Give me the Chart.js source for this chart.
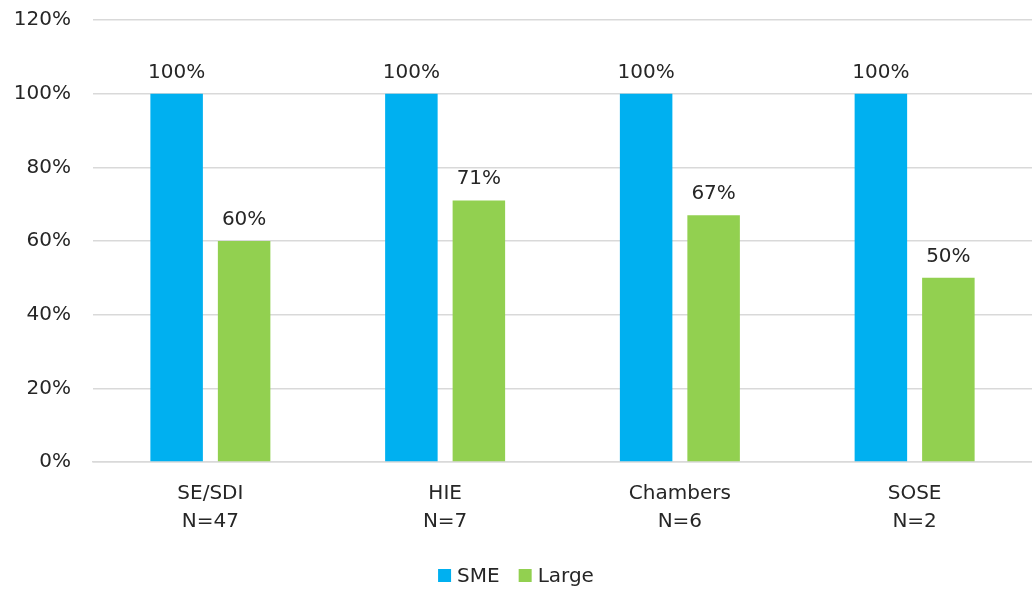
<!DOCTYPE html>
<html>
<head>
<meta charset="utf-8">
<script src="https://cdn.jsdelivr.net/npm/chart.js@4"></script>
<style>
  html, body { margin: 0; padding: 0; background: #fff; }
  #wrap { width: 1032px; height: 589px; }
</style>
</head>
<body>
<div id="wrap"><canvas id="chart"></canvas></div>
<script>
// data
const categories = [['SE/SDI', 'N=47'], ['HIE', 'N=7'], ['Chambers', 'N=6'], ['SOSE', 'N=2']];
const smeValues = [100, 100, 100, 100];
const largeValues = [60, 71, 67, 50];
const yTicks = [0, 20, 40, 60, 80, 100, 120];

const textColor = '#262626';
const fontFamily = '"DejaVu Sans", sans-serif';
const font20 = '20px ' + fontFamily;

// value labels above each bar + a small legend at the bottom
const barLabels = {
    id: 'barLabels',
    afterDatasetsDraw(chart) {
        const ctx = chart.ctx;
        ctx.save();
        ctx.fillStyle = textColor;
        ctx.font = font20;
        ctx.textAlign = 'center';
        ctx.textBaseline = 'alphabetic';
        chart.data.datasets.forEach((ds, i) => {
            const meta = chart.getDatasetMeta(i);
            meta.data.forEach((bar, j) => {
                ctx.fillText(ds.data[j] + '%', bar.x, bar.y - 16);
            });
        });
        ctx.restore();
    },
    afterDraw(chart) {
        const ctx = chart.ctx;
        const box = 13, gapText = 6, gapItem = 19;
        ctx.save();
        ctx.font = font20;
        const items = chart.data.datasets.map(ds => ({
            text: ds.label, color: ds.backgroundColor, w: ctx.measureText(ds.label).width
        }));
        let total = 0;
        items.forEach((it, i) => { total += box + gapText + it.w + (i > 0 ? gapItem : 0); });
        let x = (chart.width - total) / 2;
        const cy = 575.5;
        ctx.textBaseline = 'middle';
        ctx.textAlign = 'left';
        items.forEach((it, i) => {
            if (i > 0) x += gapItem;
            ctx.fillStyle = it.color;
            ctx.fillRect(x, cy - box / 2, box, box);
            x += box + gapText;
            ctx.fillStyle = textColor;
            ctx.fillText(it.text, x, cy + 1);
            x += it.w;
        });
        ctx.restore();
    }
};

const ctx = document.getElementById('chart').getContext('2d');
new Chart(ctx, {
    type: 'bar',
    data: {
        labels: categories,
        datasets: [
            { label: 'SME', data: smeValues, backgroundColor: '#00B0F0' },
            { label: 'Large', data: largeValues, backgroundColor: '#92D050' }
        ]
    },
    options: {
        responsive: true,
        maintainAspectRatio: false,
        animation: false,
        layout: { padding: { top: 20, right: 0, bottom: 0, left: 0 } },
        datasets: {
            bar: { categoryPercentage: 0.575, barPercentage: 0.778 }
        },
        scales: {
            x: {
                grid: { display: false },
                border: { color: '#d9d9d9', width: 1.5 },
                afterFit: (axis) => { axis.height = 127; },
                ticks: {
                    color: textColor,
                    font: { family: fontFamily, size: 20, lineHeight: 1.4 },
                    padding: 10,
                    maxRotation: 0
                }
            },
            y: {
                min: 0,
                max: 120,
                afterBuildTicks: (axis) => { axis.ticks = yTicks.map(v => ({ value: v })); },
                afterFit: (axis) => {
                    axis.width = 93;
                    axis.paddingTop = 0;
                    axis.paddingBottom = 0;
                },
                grid: { color: '#d9d9d9', lineWidth: 1.5, drawTicks: false },
                border: { display: false },
                ticks: {
                    color: textColor,
                    font: { family: fontFamily, size: 20 },
                    padding: 22,
                    callback: (v) => v + '%'
                }
            }
        },
        plugins: {
            legend: { display: false },
            tooltip: { enabled: false }
        }
    },
    plugins: [barLabels]
});
</script>
</body>
</html>
